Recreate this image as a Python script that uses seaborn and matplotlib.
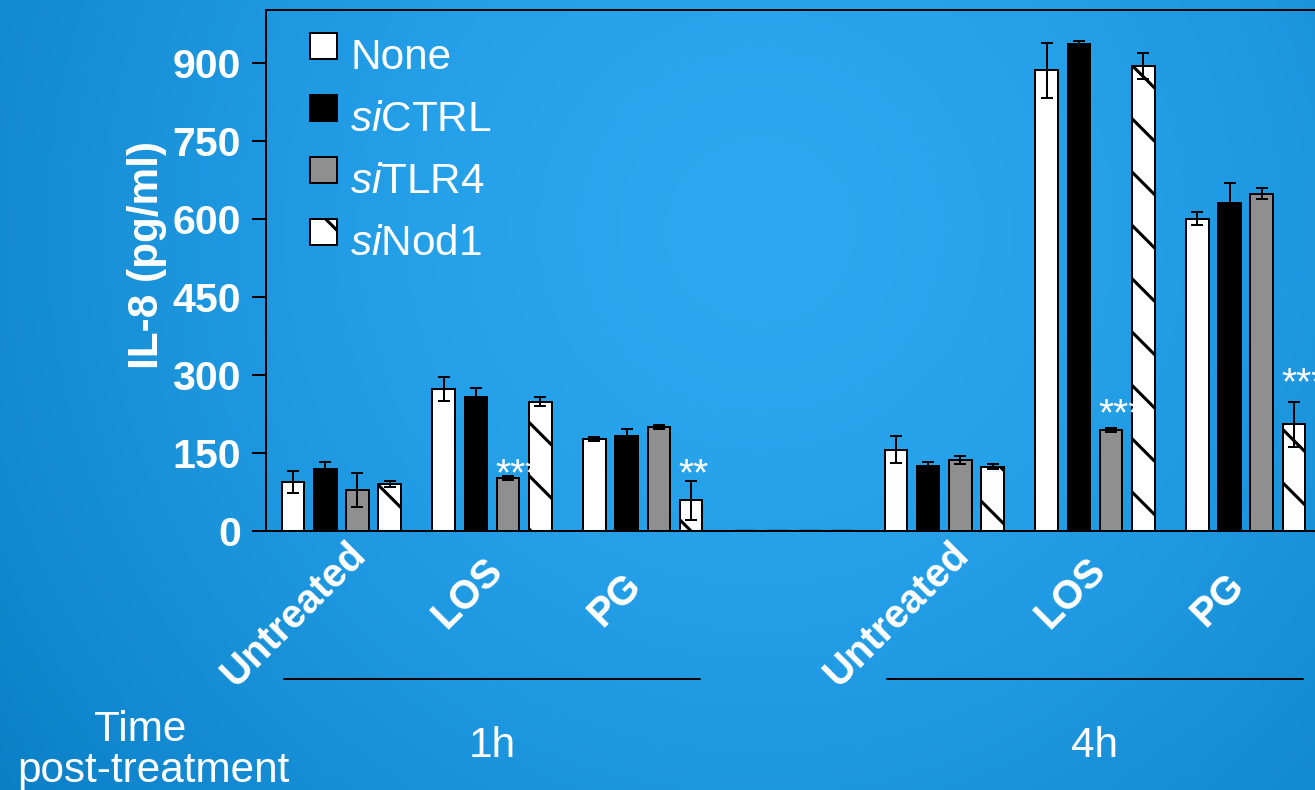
import numpy as np
import pandas as pd
import matplotlib
matplotlib.use("Agg")
import matplotlib.pyplot as plt
import matplotlib.transforms as mtransforms
import seaborn as sns

# ---------------- data ----------------
categories = ["1h Untreated", "1h LOS", "1h PG", "gap", "4h Untreated", "4h LOS", "4h PG"]
tick_labels = ["Untreated", "LOS", "PG", "", "Untreated", "LOS", "PG"]
conditions = ["None", "siCTRL", "siTLR4", "siNod1"]
legend_labels = ["None", r"$\mathit{si}$CTRL", r"$\mathit{si}$TLR4", r"$\mathit{si}$Nod1"]

none_vals = [94, 273, 177, 0, 156, 886, 601]
none_err = [21, 23, 3, 0, 26, 53, 13]
sictrl_vals = [119, 257, 183, 0, 125, 936, 630]
sictrl_err = [14, 18, 13, 0, 7, 7, 40]
sitlr4_vals = [79, 102, 200, 0, 136, 194, 649]
sitlr4_err = [33, 3, 4, 0, 8, 4, 10]
sinod1_vals = [90, 249, 59, 0, 124, 894, 205]
sinod1_err = [6, 8, 38, 0, 5, 25, 43]

time_labels = ["1h", "4h"]
time_first = [0, 4]
time_last = [2, 6]

sig_cats = ["1h LOS", "1h PG", "4h LOS", "4h PG"]
sig_conds = ["siTLR4", "siNod1", "siTLR4", "siNod1"]
sig_text = ["***", "**", "***", "***"]
sig_y = [88, 88, 204, 263]

y_ticks = [0, 150, 300, 450, 600, 750, 900]

# ---------------- style ----------------
sns.set_theme(style="white")
plt.rcParams["font.family"] = ["Liberation Sans", "DejaVu Sans"]
plt.rcParams["mathtext.fontset"] = "custom"
plt.rcParams["mathtext.rm"] = "Liberation Sans"
plt.rcParams["mathtext.it"] = "Liberation Sans:italic"
plt.rcParams["hatch.linewidth"] = 1.4
plt.rcParams["hatch.color"] = "black"

DPI = 160
W, H = 1315, 790
fig = plt.figure(figsize=(W / DPI, H / DPI), dpi=DPI)

# radial gradient background
yy, xx = np.mgrid[0:H, 0:W]
r = np.hypot(xx - 760, yy - 230) / 944.0
t = np.clip(r, 0, 1.3) ** 1.6
c0 = np.array([43, 168, 241]) / 255.0
c1 = np.array([10, 127, 198]) / 255.0
img = np.clip(c0 + (c1 - c0) * t[..., None], 0, 1)
bg = fig.add_axes([0, 0, 1, 1], zorder=-10)
bg.imshow(img, aspect="auto", interpolation="bilinear")
bg.axis("off")

ax = fig.add_axes([266 / W, 1 - 531 / H, 1055 / W, 521 / H])
ax.set_facecolor("none")

vals = [none_vals, sictrl_vals, sitlr4_vals, sinod1_vals]
errs = [none_err, sictrl_err, sitlr4_err, sinod1_err]
df = pd.DataFrame({
    "category": [c for _ in conditions for c in categories],
    "condition": [cond for cond in conditions for _ in categories],
    "value": [v for series in vals for v in series],
})

palette = {"None": "white", "siCTRL": "black", "siTLR4": "#8f8f8f", "siNod1": "white"}
sns.barplot(data=df, x="category", y="value", hue="condition", order=categories,
            hue_order=conditions, palette=palette, width=0.855, gap=0.3,
            errorbar=None, edgecolor="black", linewidth=0.9, saturation=1,
            legend=False, ax=ax)
bars = list(ax.containers)
for p in bars[3]:
    p.set_hatch("\\")
gap_idx = categories.index("gap")
for cont in bars:
    cont[gap_idx].set_linewidth(1.5)

# error bars
for cont, v, e in zip(bars, vals, errs):
    xs = [p.get_x() + p.get_width() / 2 for p in cont]
    keep = [i for i in range(len(e)) if e[i] > 0]
    ax.errorbar([xs[i] for i in keep], [v[i] for i in keep], yerr=[e[i] for i in keep],
                fmt="none", ecolor="black", elinewidth=0.9, capsize=2.7, capthick=0.9, zorder=3)

# significance stars
for cat, cond, txt, yv in zip(sig_cats, sig_conds, sig_text, sig_y):
    p = bars[conditions.index(cond)][categories.index(cat)]
    ax.text(p.get_x() - 0.01, yv, txt, color="white", fontsize=17.5, ha="left", va="baseline",
            zorder=5, clip_on=False)

ax.set_xlim(-0.5, len(categories) - 0.5)
ax.set_ylim(0, 1002)
ax.set_yticks(y_ticks)
ax.set_yticklabels([str(v) for v in y_ticks], fontweight="bold")
ax.tick_params(axis="y", length=6.3, width=0.9, color="black", pad=5, labelsize=18.5,
               labelcolor="white", left=True)
ax.set_xlabel("")
ax.set_ylabel("IL-8 (pg/ml)", fontsize=19, fontweight="bold", color="white")
ax.yaxis.set_label_coords(-0.094, 0.53)

ax.set_xticks(range(len(categories)))
ax.set_xticklabels(tick_labels, rotation=45, ha="right", va="center", rotation_mode="anchor",
                   fontweight="bold", color="white", fontsize=18)
ax.tick_params(axis="x", length=0, pad=14.9)
label_offsets = [(19, -16), (5, 0), (-7, 15), (0, 0), (19, -16), (5, 0), (-7, 15)]
for lab, (dx, dy) in zip(ax.get_xticklabels(), label_offsets):
    lab.set_transform(lab.get_transform() +
                      mtransforms.ScaledTranslation(dx / DPI, -dy / DPI, fig.dpi_scale_trans))

for side in ["left", "top", "bottom"]:
    ax.spines[side].set_visible(True)
    ax.spines[side].set_color("black")
    ax.spines[side].set_linewidth(0.9)
ax.spines["right"].set_visible(False)

# legend
leg = ax.legend(handles=bars, labels=legend_labels, loc="upper left",
                bbox_to_anchor=(0.0417, 0.962), frameon=False, fontsize=19,
                labelcolor="white", handlelength=0.64, handleheight=0.57,
                handletextpad=0.31, labelspacing=0.52, borderaxespad=0, borderpad=0)
for txt in leg.get_texts():
    txt.set_transform(txt.get_transform() +
                      mtransforms.ScaledTranslation(0, -8 / DPI, fig.dpi_scale_trans))

# time annotation
blend = mtransforms.blended_transform_factory(ax.transData, ax.transAxes)
for lab, a, b in zip(time_labels, time_first, time_last):
    ax.plot([a - 0.38, b + 0.38], [-0.284, -0.284], transform=blend, color="black",
            lw=0.9, clip_on=False)
    ax.text((a + b) / 2, -0.434, lab, transform=blend, ha="center", va="baseline",
            color="white", fontsize=19)
fig.text(140 / W, 1 - 741 / H, "Time", ha="center", va="baseline", color="white", fontsize=19)
fig.text(153 / W, 1 - 782 / H, "post-treatment", ha="center", va="baseline", color="white",
         fontsize=19)

fig.savefig("out.png", dpi=DPI)
